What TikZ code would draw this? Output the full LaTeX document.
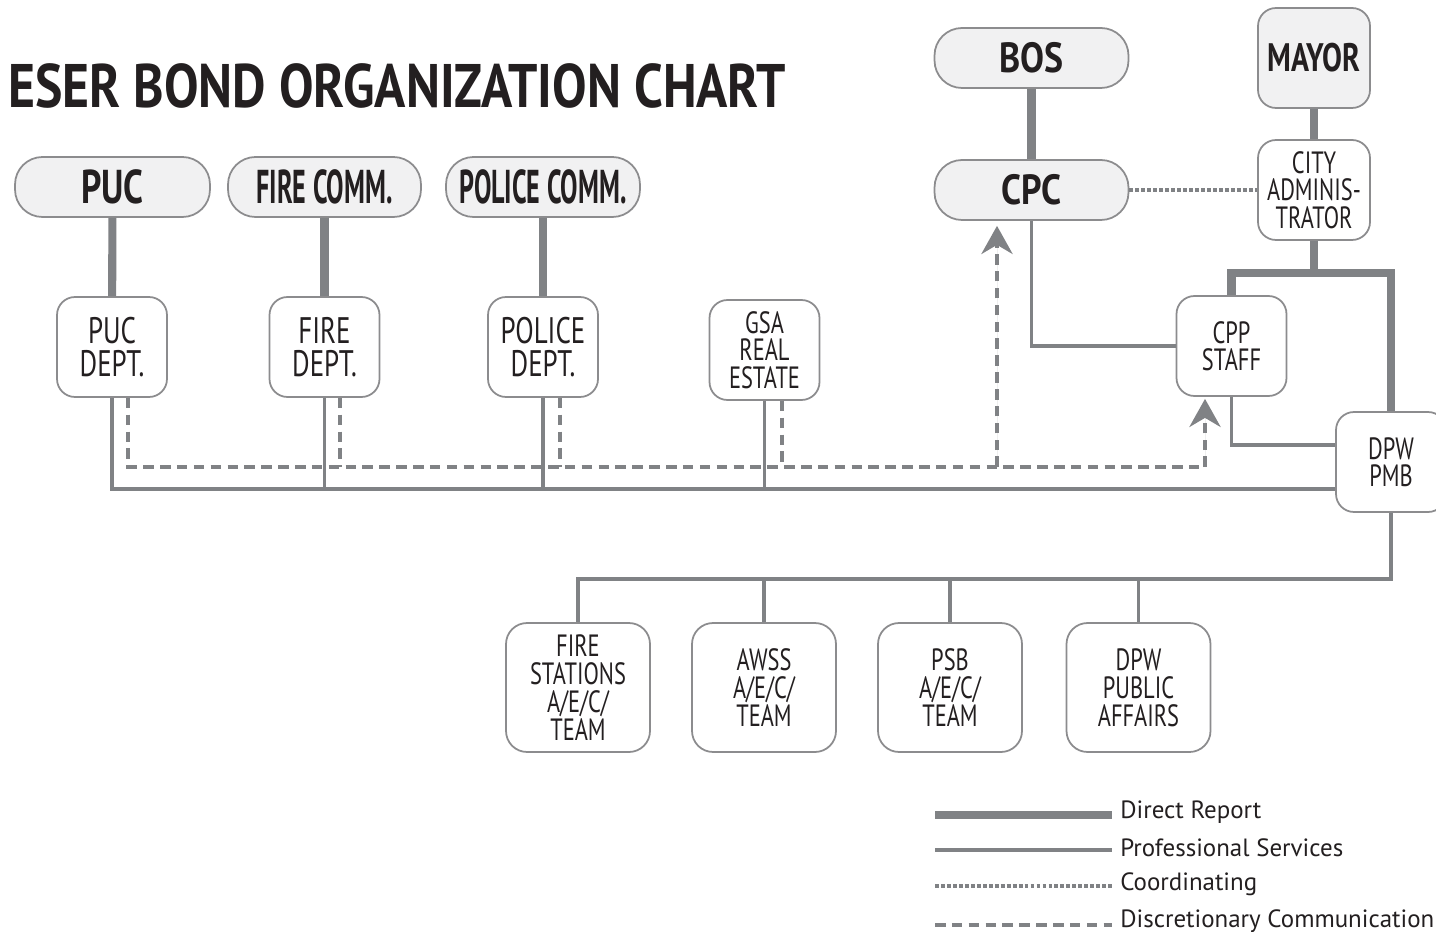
\documentclass[tikz,border=0pt]{standalone}
\usepackage{fontspec}
\setmainfont{PT Sans}
\newfontfamily\fA[FakeStretch=0.75]{PT Sans}
\newfontfamily\fT[FakeStretch=0.84]{PT Sans}
\newfontfamily\fB[FakeStretch=0.55]{PT Sans}
\newfontfamily\fC[FakeStretch=0.85]{PT Sans}
\newfontfamily\fD[FakeStretch=0.73]{PT Sans}
\usetikzlibrary{arrows.meta}
\definecolor{ln}{HTML}{808285}
\definecolor{bx}{HTML}{8C8C8E}
\definecolor{tf}{HTML}{F1F1F2}
\definecolor{ink}{HTML}{231F20}
\tikzset{
  topbox/.style={draw=bx, fill=tf, line width=1pt, rounded corners=0.55cm, minimum width=3.88cm, minimum height=1.2cm, inner sep=0pt, text=ink},
  deptbox/.style={draw=bx, fill=white, line width=1pt, rounded corners=0.36cm, minimum width=2.2cm, minimum height=2cm, inner sep=0pt, align=center, text=ink, font=\fD\fontsize{21}{19}\selectfont},
  smallbox/.style={deptbox, font=\fD\fontsize{17.5}{15.6}\selectfont},
  botbox/.style={smallbox, minimum width=2.88cm, minimum height=2.58cm, rounded corners=0.42cm, font=\fD\fontsize{17.5}{15.9}\selectfont},
  direct/.style={draw=ln, line width=4.6pt},
  prof/.style={draw=ln, line width=2.2pt},
  coord/.style={draw=ln, line width=2.4pt, dash pattern=on 2.2pt off 1.2pt},
  disc/.style={draw=ln, line width=2.8pt, dash pattern=on 6pt off 3.6pt},
  arr/.style={-{Stealth[length=0.56cm,width=0.62cm,inset=0.18cm]}, fill=ln},
  leg/.style={anchor=west, inner xsep=4.5pt, inner ysep=0pt, text=ink, font=\fontsize{14.2}{16}\selectfont}
}
\begin{document}
\begin{tikzpicture}[x=0.02cm,y=-0.02cm]
\clip (0,0) rectangle (1436,932);
\fill[white] (0,0) rectangle (1436,932);

\node[anchor=base west, inner sep=0pt, text=ink, font=\fT\bfseries\fontsize{35}{40}\selectfont] (title) at (8,108) {ESER BOND ORGANIZATION CHART};

% top level
\node[topbox, font=\fC\bfseries\fontsize{24}{28}\selectfont] (BOS) at (1031.5,58) {BOS};
\node[topbox, font=\fC\bfseries\fontsize{24}{28}\selectfont] (CPC) at (1031.5,190) {CPC};
\node[topbox, rounded corners=0.36cm, minimum width=2.24cm, minimum height=2cm, font=\fA\bfseries\fontsize{22.6}{26}\selectfont] (MAYOR) at (1314,58) {MAYOR};
\node[smallbox, minimum width=2.24cm] (CITY) at (1314,190) {CITY\\ADMINIS-\\TRATOR};
\node[topbox, minimum width=3.9cm, font=\fA\bfseries\fontsize{27}{30}\selectfont] (PUC) at (112.5,187) {PUC};
\node[topbox, minimum width=3.86cm, font=\fB\bfseries\fontsize{27}{30}\selectfont] (FIRECOMM) at (324.5,187) {FIRE COMM.};
\node[topbox, minimum width=3.88cm, font=\fB\bfseries\fontsize{27}{30}\selectfont] (POLICECOMM) at (543,187) {POLICE COMM.};

% departments
\node[deptbox] (PUCDEPT) at (112,347) {PUC\\DEPT.};
\node[deptbox] (FIREDEPT) at (324.5,347) {FIRE\\DEPT.};
\node[deptbox] (POLICEDEPT) at (543,347) {POLICE\\DEPT.};
\node[smallbox] (GSA) at (764.5,350) {GSA\\REAL\\ESTATE};
\node[smallbox] (CPP) at (1231.5,346) {CPP\\STAFF};
\node[smallbox] (DPW) at (1391,462) {DPW\\PMB};

% bottom
\node[botbox] (FS) at (578,687.5) {FIRE\\STATIONS\\A/E/C/\\TEAM};
\node[botbox] (AWSS) at (764,687.5) {AWSS\\A/E/C/\\TEAM};
\node[botbox] (PSB) at (950,687.5) {PSB\\A/E/C/\\TEAM};
\node[botbox] (DPWPA) at (1138.5,687.5) {DPW\\PUBLIC\\AFFAIRS};

% direct report
\draw[direct] (BOS) -- (CPC);
\draw[direct] (MAYOR) -- (CITY);
\draw[direct] (PUC) -- (PUCDEPT);
\draw[direct] (FIRECOMM) -- (FIREDEPT);
\draw[direct] (POLICECOMM) -- (POLICEDEPT);
\coordinate (cj) at (1314,273);
\draw[direct] (CITY.south) -- (cj);
\draw[direct] (CPP.north) |- (cj) -| (DPW.north);

% professional services
\draw[prof] (CPC.south) |- (CPP.west);
\draw[prof] (CPP.south) |- (DPW.west |- 0,445);
\draw[prof] (PUCDEPT.south) |- (DPW.west |- 0,489);
\draw[prof] (FIREDEPT.south) -- (FIREDEPT.south |- 0,489);
\draw[prof] (POLICEDEPT.south) -- (POLICEDEPT.south |- 0,489);
\draw[prof] (GSA.south) -- (GSA.south |- 0,489);
\coordinate (bj) at (1391,579);
\draw[prof] (DPW.south) -- (bj) -| (FS.north);
\draw[prof] (AWSS.north) -- (AWSS.north |- bj);
\draw[prof] (PSB.north) -- (PSB.north |- bj);
\draw[prof] (DPWPA.north) -- (DPWPA.north |- bj);

% coordinating
\draw[coord] (CPC.east) -- (CITY.west);

% discretionary
\coordinate (dR) at (1205,467);
\coordinate (dC) at (997,467);
\draw[disc] ([xshift=0.32cm]PUCDEPT.south) |- (dR);
\draw[disc] ([xshift=0.31cm]FIREDEPT.south) -- ([xshift=0.31cm]FIREDEPT.south |- dR);
\draw[disc] ([xshift=0.34cm]POLICEDEPT.south) -- ([xshift=0.34cm]POLICEDEPT.south |- dR);
\draw[disc] ([xshift=0.35cm]GSA.south) -- ([xshift=0.35cm]GSA.south |- dR);
\draw[disc, arr, shorten >=0.1cm] (dC) -- (dC |- CPC.south);
\draw[disc, arr, shorten >=0.04cm] (dR) -- (dR |- CPP.south);

% legend
\node[leg] (L1) at (1112,812) {Direct Report};
\node[leg] (L2) at (1112,848) {Professional Services};
\node[leg] (L3) at (1112,884) {Coordinating};
\node[leg] (L4) at (1112,921) {Discretionary Communication};
\draw[direct] (935,815) -- (L1.west |- 0,815);
\draw[prof] (935,850) -- (L2.west |- 0,850);
\draw[coord] (935,886) -- (L3.west |- 0,886);
\draw[disc] (935,925) -- (L4.west |- 0,925);
\end{tikzpicture}
\end{document}
